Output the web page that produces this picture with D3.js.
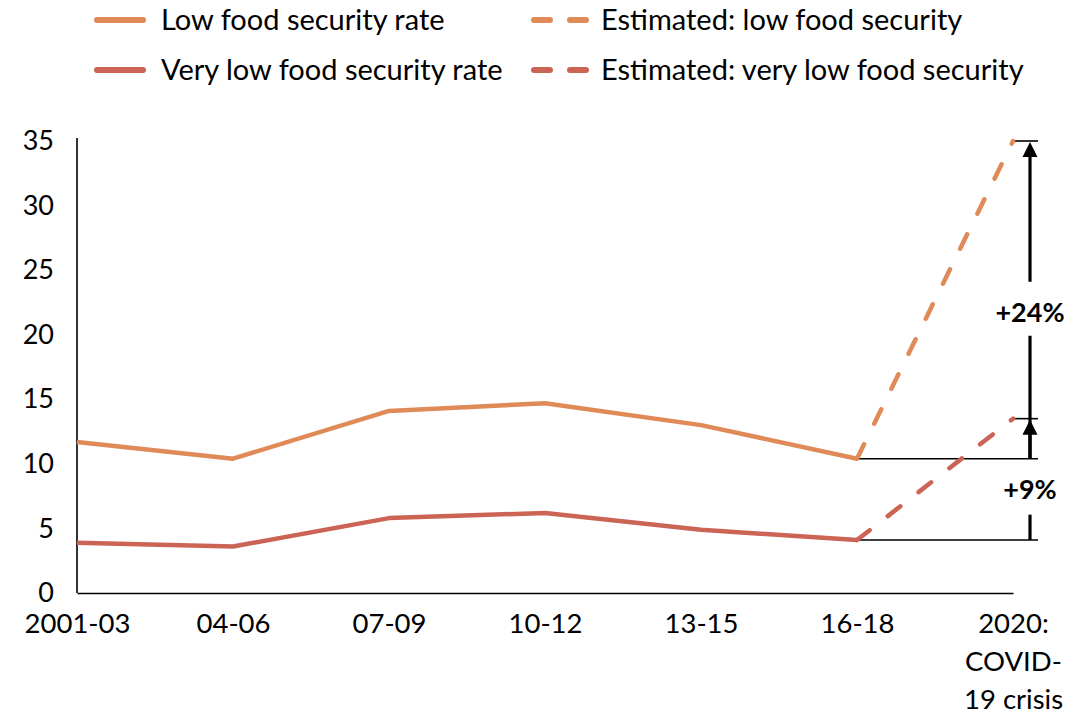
<!DOCTYPE html>
<html>
<head>
<meta charset="utf-8">
<script src="https://cdn.jsdelivr.net/npm/d3@7"></script>
<style>
  html, body { margin: 0; padding: 0; background: #fff; }
  svg { display: block; font-family: Lato, "Open Sans", sans-serif; }
</style>
</head>
<body>
<svg id="chart" width="1092" height="714"></svg>
<script>
// Food insecurity rates by period (%), with 2020 COVID-19 estimates
const periods = ["2001-03", "04-06", "07-09", "10-12", "13-15", "16-18", "2020"];
const periodLabels = [["2001-03"], ["04-06"], ["07-09"], ["10-12"], ["13-15"], ["16-18"], ["2020:", "COVID-", "19 crisis"]];
const lowRate = [11.7, 10.4, 14.1, 14.7, 13.0, 10.4];
const veryLowRate = [3.9, 3.6, 5.8, 6.2, 4.9, 4.1];
const estPeriods = ["16-18", "2020"];
const estLow = [10.4, 35.0];
const estVeryLow = [4.1, 13.5];
const yTicks = [0, 5, 10, 15, 20, 25, 30, 35];
const changeLabels = ["+24%", "+9%"];
const legendItems = [
  { name: "Low food security rate", key: "low", dashed: false },
  { name: "Estimated: low food security", key: "low", dashed: true },
  { name: "Very low food security rate", key: "veryLow", dashed: false },
  { name: "Estimated: very low food security", key: "veryLow", dashed: true }
];

const colors = { low: "#DF8A57", veryLow: "#CB6454" };
const dashPattern = "16,23";

const svg = d3.select("#chart");
const x = d3.scalePoint().domain(periods).range([77, 1013]);
const y = d3.scaleLinear().domain([0, 35]).range([593, 141]);

// Axes
const yAxis = d3.axisLeft(y).tickValues(yTicks).tickSize(0).tickPadding(23);
const gy = svg.append("g").attr("transform", `translate(${x.range()[0]},0)`).call(yAxis);
gy.select(".domain").attr("stroke", "#000").attr("stroke-width", 1.6)
  .attr("d", `M0,${y(35) - 3}V${y(0)}`);
gy.selectAll("text").attr("font-size", 27).attr("fill", "#000")
  .attr("font-family", "Lato, sans-serif");

const xAxis = d3.axisBottom(x).tickSize(0).tickFormat(() => "");
const gx = svg.append("g").attr("transform", `translate(0,${y(0)})`).call(xAxis);
gx.select(".domain").attr("stroke", "#000").attr("stroke-width", 1.6);

// Category labels (multi-line for the final period)
gx.selectAll(".tick").each(function (d, i) {
  const t = d3.select(this).append("text")
    .attr("text-anchor", "middle")
    .attr("font-size", 27.5)
    .attr("fill", "#000")
    .attr("font-family", "Lato, sans-serif");
  periodLabels[i].forEach((line, j) => {
    t.append("tspan").attr("x", 0).attr("y", 40 + j * 38).text(line);
  });
});

// Lines
const line = d3.line()
  .x((d) => x(d[0]))
  .y((d) => y(d[1]));

function drawSeries(names, values, color, dashed) {
  svg.append("path")
    .datum(names.map((n, i) => [n, values[i]]))
    .attr("d", line)
    .attr("fill", "none")
    .attr("stroke", color)
    .attr("stroke-width", 4.5)
    .attr("stroke-linejoin", "round")
    .attr("stroke-linecap", dashed ? "round" : "butt")
    .attr("stroke-dasharray", dashed ? dashPattern : null);
}

// Reference lines from the last observed values
const xLast = x("16-18");
const xEst = x("2020");
const xArrow = xEst + 17;
const xRefEnd = xEst + 25;

const ref = svg.append("g").attr("stroke", "#000").attr("stroke-width", 1.6);
ref.append("line").attr("x1", xLast).attr("x2", xRefEnd).attr("y1", y(estLow[0])).attr("y2", y(estLow[0]));
ref.append("line").attr("x1", xLast).attr("x2", xRefEnd).attr("y1", y(estVeryLow[0])).attr("y2", y(estVeryLow[0]));
ref.append("line").attr("x1", xEst).attr("x2", xRefEnd).attr("y1", y(estLow[1])).attr("y2", y(estLow[1]));
ref.append("line").attr("x1", xEst).attr("x2", xRefEnd).attr("y1", y(estVeryLow[1])).attr("y2", y(estVeryLow[1]));

drawSeries(periods.slice(0, 6), lowRate, colors.low, false);
drawSeries(periods.slice(0, 6), veryLowRate, colors.veryLow, false);
drawSeries(estPeriods, estLow, colors.low, true);
drawSeries(estPeriods, estVeryLow, colors.veryLow, true);

// Change arrows
const arrows = svg.append("g");
function vseg(y1, y2) {
  arrows.append("line").attr("x1", xArrow).attr("x2", xArrow)
    .attr("y1", y1).attr("y2", y2).attr("stroke", "#000").attr("stroke-width", 3.2);
}
function head(yTip) {
  arrows.append("path")
    .attr("d", `M${xArrow},${yTip}L${xArrow - 7.5},${yTip + 15}L${xArrow + 7.5},${yTip + 15}Z`)
    .attr("fill", "#000");
}
// Low food security change
const lowLabelY = y(21.7);
vseg(y(estLow[1]) + 10, lowLabelY - 31);
vseg(lowLabelY + 23, y(estLow[0]));
head(y(estLow[1]) + 1);
// Very low food security change
const vlLabelY = y(8.0);
vseg(y(estVeryLow[1]) + 10, y(estLow[0]));
vseg(vlLabelY + 25, y(estVeryLow[0]));
head(y(estVeryLow[1]) + 1);

arrows.selectAll("text.change")
  .data([[changeLabels[0], lowLabelY], [changeLabels[1], vlLabelY]])
  .join("text")
  .attr("class", "change")
  .attr("x", xArrow)
  .attr("y", (d) => d[1])
  .attr("dy", "0.35em")
  .attr("text-anchor", "middle")
  .attr("font-size", 27)
  .attr("font-weight", "bold")
  .attr("fill", "#000")
  .text((d) => d[0]);

// Legend
const legendPos = [[95, 20], [531, 20], [95, 70], [531, 70]];
const lg = svg.append("g");
legendItems.forEach((item, i) => {
  const [lx, ly] = legendPos[i];
  const g = lg.append("g").attr("transform", `translate(${lx},${ly})`);
  if (item.dashed) {
    g.append("line").attr("x1", 3).attr("x2", 58).attr("y1", 0).attr("y2", 0)
      .attr("stroke", colors[item.key]).attr("stroke-width", 6)
      .attr("stroke-linecap", "round").attr("stroke-dasharray", "16,20");
  } else {
    g.append("line").attr("x1", 2).attr("x2", 48).attr("y1", 0).attr("y2", 0)
      .attr("stroke", colors[item.key]).attr("stroke-width", 6)
      .attr("stroke-linecap", "round");
  }
  g.append("text").attr("x", item.dashed ? 70 : 66).attr("y", 0).attr("dy", "0.35em")
    .attr("font-size", 29).attr("fill", "#000")
    .text(item.name);
});
</script>
</body>
</html>
